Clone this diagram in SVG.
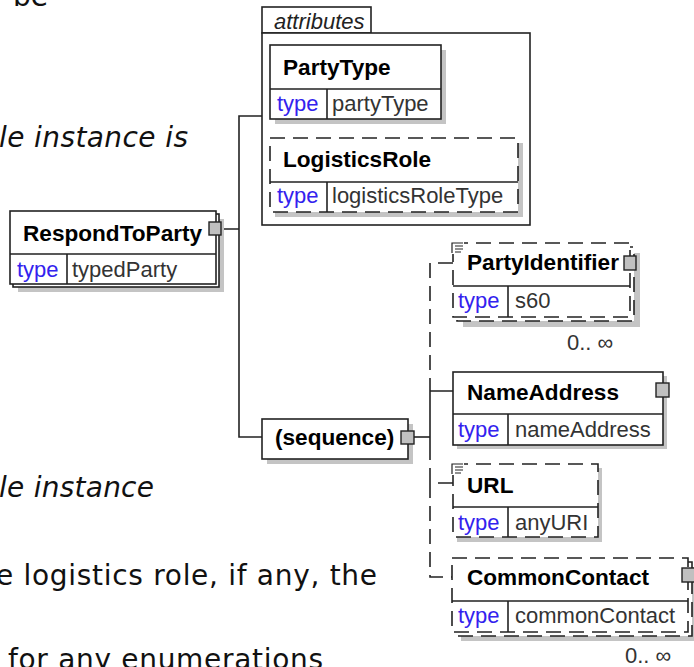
<svg xmlns="http://www.w3.org/2000/svg" width="694" height="667" viewBox="0 0 694 667">
<style>
.box{fill:#fff;stroke:#222;stroke-width:1.6}
.dash{stroke-dasharray:15 8}
.sh{fill:#c4c4c4}
.ln{stroke:#222;stroke-width:1.6;fill:none}
.nm{font-family:"Liberation Sans",Arial,sans-serif;font-size:22.6px;font-weight:bold;fill:#000}
.tk{font-family:"Liberation Sans",Arial,sans-serif;font-size:22px;fill:#3322ee}
.tv{font-family:"Liberation Sans",Arial,sans-serif;font-size:22px;fill:#333}
.it{font-family:"Liberation Sans",Arial,sans-serif;font-size:22px;font-style:italic;fill:#222}
.body{font-family:"DejaVu Sans",Verdana,sans-serif;font-size:28px;fill:#111}
.exp{fill:#c0c0c0;stroke:#222;stroke-width:1.4}
.ico{stroke:#222;stroke-width:1.2;fill:none}
</style>
<rect width="694" height="667" fill="#fff"/>
<g id="bodytext">
<text class="body" x="13" y="6">be</text>
<text class="body" x="-1" y="147" font-style="italic" textLength="189" lengthAdjust="spacing">le instance is</text>
<text class="body" x="-1" y="497" font-style="italic" textLength="155" lengthAdjust="spacing">le instance</text>
<text class="body" x="-4" y="585" textLength="381" lengthAdjust="spacing">e logistics role, if any, the</text>
<text class="body" x="8" y="669" textLength="315" lengthAdjust="spacing">for any enumerations</text>
</g>
<g id="connectors">
<path class="ln" d="M221,229 H239 M262,116 H239 V437 H262"/>
<path class="ln" d="M414,437 H430"/>
<path class="ln dash" d="M453,263 H430 V391"/>
<path class="ln" d="M430,391 H453 M430,391 V445"/>
<path class="ln dash" d="M453,483 H430 V437"/>
<path class="ln dash" d="M430,483 V577 H452"/>
</g>
<g id="RespondToParty">
<rect class="sh" x="18" y="219" width="206" height="73"/>
<rect class="box" x="13" y="214" width="206" height="73"/>
<rect class="box" x="10" y="211" width="206" height="73"/>
<path class="ln" d="M10,254 H216 M67,254 V284"/>
<text class="nm" x="23" y="241">RespondToParty</text>
<text class="tk" x="17" y="277">type</text>
<text class="tv" x="72" y="277">typedParty</text>
<rect class="exp" x="209" y="222" width="12" height="13"/>
</g>
<g id="attributes">
<rect class="box" x="262" y="7" width="109" height="26"/>
<rect class="box" x="262" y="33" width="268" height="192"/>
<text class="it" x="274" y="29">attributes</text>
</g>
<g id="PartyType">
<rect class="sh" x="275" y="50" width="171" height="74"/>
<rect class="box" x="270" y="45" width="171" height="74"/>
<path class="ln" d="M270,89 H441 M327,89 V119"/>
<text class="nm" x="283" y="75">PartyType</text>
<text class="tk" x="277" y="111">type</text>
<text class="tv" x="332" y="111">partyType</text>
</g>
<g id="LogisticsRole">
<rect class="sh" x="275" y="143" width="248" height="74"/>
<rect class="box dash" x="270" y="138" width="248" height="74"/>
<path class="ln" d="M270,182 H518 M327,182 V212"/>
<text class="nm" x="283" y="167">LogisticsRole</text>
<text class="tk" x="277" y="203">type</text>
<text class="tv" x="332" y="203">logisticsRoleType</text>
</g>
<g id="sequence">
<rect class="sh" x="267" y="424" width="146" height="40"/>
<rect class="box" x="262" y="419" width="146" height="40"/>
<text class="nm" x="275" y="445">(sequence)</text>
<rect class="exp" x="401" y="431" width="13" height="13"/>
</g>
<g id="PartyIdentifier">
<rect class="sh" x="463" y="253" width="177" height="74"/>
<rect class="box dash" x="457" y="247" width="177" height="74"/>
<rect class="box dash" x="453" y="243" width="177" height="74"/>
<path class="ln" d="M453,286 H630 M508,286 V317"/>
<rect x="450" y="241" width="14" height="13" fill="#fff"/>
<path class="ico" d="M452,253 V243 H463 M455,246 H463 M455,249 H463 M455,252 H461"/>
<text class="nm" x="467" y="270">PartyIdentifier</text>
<text class="tk" x="458" y="308">type</text>
<text class="tv" x="515" y="308">s60</text>
<rect class="exp" x="624" y="256" width="12" height="14"/>
<text class="tv" x="567" y="350">0.. ∞</text>
</g>
<g id="NameAddress">
<rect class="sh" x="457" y="376" width="210" height="73"/>
<rect class="box" x="453" y="372" width="210" height="73"/>
<path class="ln" d="M453,414 H663 M508,414 V445"/>
<text class="nm" x="467" y="400">NameAddress</text>
<text class="tk" x="458" y="437">type</text>
<text class="tv" x="515" y="437">nameAddress</text>
<rect class="exp" x="656" y="383" width="13" height="14"/>
</g>
<g id="URL">
<rect class="sh" x="457" y="468" width="145" height="74"/>
<rect class="box dash" x="453" y="464" width="145" height="73"/>
<path class="ln" d="M453,507 H598 M508,507 V537"/>
<rect x="450" y="462" width="14" height="13" fill="#fff"/>
<path class="ico" d="M452,474 V464 H463 M455,467 H463 M455,470 H463 M455,473 H461"/>
<text class="nm" x="467" y="493">URL</text>
<text class="tk" x="458" y="530">type</text>
<text class="tv" x="515" y="530">anyURI</text>
</g>
<g id="CommonContact">
<rect class="sh" x="461" y="567" width="236" height="74"/>
<rect class="box dash" x="456" y="562" width="236" height="74"/>
<rect class="box dash" x="452" y="558" width="236" height="74"/>
<path class="ln" d="M452,601 H688 M508,601 V632"/>
<text class="nm" x="467" y="585">CommonContact</text>
<text class="tk" x="458" y="623">type</text>
<text class="tv" x="515" y="623">commonContact</text>
<rect class="exp" x="682" y="568" width="13" height="14"/>
<text class="tv" x="625" y="663">0.. ∞</text>
</g>
</svg>
